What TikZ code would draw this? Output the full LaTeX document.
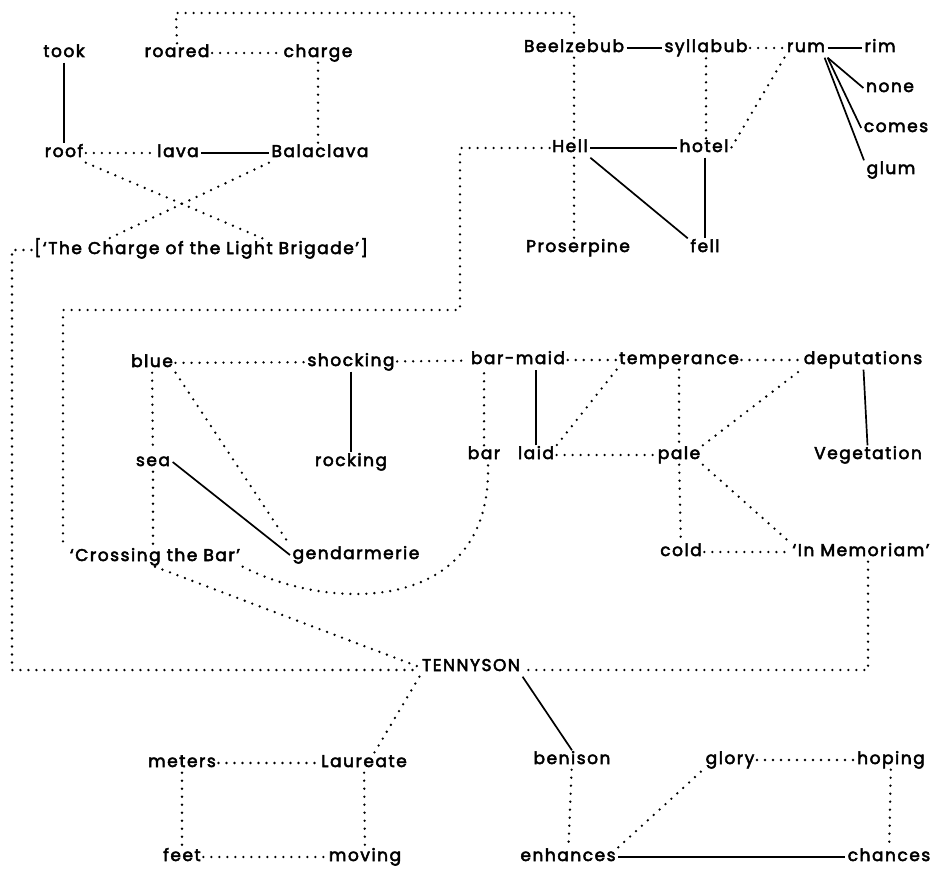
\documentclass[tikz,border=0pt]{standalone}
\usepackage{fontspec}
\setmainfont{Poppins}[LetterSpace=9,FakeBold=3]
\begin{document}
\begin{tikzpicture}[x=1pt,y=-1pt,
  w/.style={inner sep=2.5pt, text height=11pt, text depth=3pt, font=\fontsize{17}{20}\selectfont},
  dotl/.style={line width=2.6pt, line cap=round, dash pattern=on 0pt off 8pt},
  sol/.style={line width=1.7pt}]
\useasboundingbox[fill=white] (0,0) rectangle (936,869);
% top-left cluster
\node[w] (took) at (64,53) {took};
\node[w] (roared) at (177,53) {roared};
\node[w] (charge) at (318,53) {charge};
\node[w] (roof) at (64,153) {roof};
\node[w] (lava) at (178,153) {lava};
\node[w] (balaclava) at (320,153) {Balaclava};
\node[w] (brigade) at (201,250) {[‘The Charge of the Light Brigade’]};
% top-right cluster
\node[w] (beelzebub) at (574,48) {Beelzebub};
\node[w] (syllabub) at (706,48) {syllabub};
\node[w] (rum) at (806,48) {rum};
\node[w] (rim) at (880,48) {rim};
\node[w] (none) at (890,88) {none};
\node[w] (comes) at (896,128) {comes};
\node[w] (glum) at (891,170) {glum};
\node[w] (hell) at (570,148) {Hell};
\node[w] (hotel) at (704,148) {hotel};
\node[w] (proserpine) at (578,248) {Proserpine};
\node[w] (fell) at (705,248) {fell};
% middle
\node[w] (blue) at (152,363) {blue};
\node[w] (shocking) at (351,362) {shocking};
\node[w] (sea) at (153,462) {sea};
\node[w] (rocking) at (351,462) {rocking};
\node[w] (crossing) at (155,557) {‘Crossing the Bar’};
\node[w] (gendarmerie) at (356,555) {gendarmerie};
\node[w] (barmaid) at (518,360) {bar-maid};
\node[w] (temperance) at (679,360) {temperance};
\node[w] (deputations) at (863,360) {deputations};
\node[w] (bar) at (484,455) {bar};
\node[w] (laid) at (536,455) {laid};
\node[w] (pale) at (679,455) {pale};
\node[w] (vegetation) at (868,455) {Vegetation};
\node[w] (cold) at (681,552) {cold};
\node[w] (memoriam) at (861,552) {‘In Memoriam’};
% bottom
\node[w] (tennyson) at (471,667) {TENNYSON};
\node[w] (meters) at (182,763) {meters};
\node[w] (laureate) at (364,763) {Laureate};
\node[w] (feet) at (182,857) {feet};
\node[w] (moving) at (365,857) {moving};
\node[w] (benison) at (572,760) {benison};
\node[w] (enhances) at (568,857) {enhances};
\node[w] (glory) at (730,760) {glory};
\node[w] (hoping) at (891,760) {hoping};
\node[w] (chances) at (889,857) {chances};

\coordinate (t1) at (176,13);
\coordinate (t2) at (574,13);
\coordinate (h1) at (460,148);
\coordinate (h2) at (460,310);
\coordinate (h3) at (63,310);
\coordinate (b1) at (12,250);
\coordinate (b2) at (12,670);
\coordinate (m1) at (868,670);

% top-left
\draw[sol] (took) -- (roof);
\draw[dotl] (roared) -- (charge);
\draw[dotl] (charge) -- (charge |- balaclava.north);
\draw[dotl] (roof) -- (lava);
\draw[sol] (lava) -- (balaclava);
\draw[dotl] (roof.south east) -- ([xshift=66pt]brigade.north);
\draw[dotl] (balaclava.south west) -- ([xshift=-96pt]brigade.north);
\draw[dotl] (roared.north) -- (t1) -- (t2) -- (t2 |- beelzebub.north);
\draw[dotl] (brigade.west) -- (b1) -- (b2) -- (tennyson.west |- b2);
% top-right
\draw[sol] (beelzebub) -- (syllabub);
\draw[dotl] (syllabub) -- (rum);
\draw[sol] (rum) -- (rim);
\draw[sol] (rum.south east) -- (none.west);
\draw[sol] (rum.south east) -- (comes.west);
\draw[sol] ([xshift=-3pt]rum.south east) -- (glum.north west);
\draw[dotl] (t2 |- beelzebub.south) -- (t2 |- hell.north);
\draw[dotl] (t2 |- hell.south) -- (t2 |- proserpine.north);
\draw[dotl] (hotel.north -| syllabub.south) -- (syllabub.south);
\draw[dotl] (rum.south west) -- (hotel.east);
\draw[sol] (hell) -- (hotel);
\draw[sol] (hell.south east) -- (fell.north west);
\draw[sol] (hotel.south -| fell.north) -- (fell.north);
\draw[dotl] (hell.west) -- (h1) -- (h2) -- (h3) -- (h3 |- crossing.north);
% middle
\draw[dotl] (blue) -- (shocking);
\draw[dotl] (shocking) -- (barmaid);
\draw[dotl] (barmaid) -- (temperance);
\draw[dotl] (temperance) -- (deputations);
\draw[sol] (shocking) -- (rocking);
\draw[dotl] (bar.north) -- (bar.north |- barmaid.south);
\draw[sol] (laid.north) -- (laid.north |- barmaid.south);
\draw[dotl] (blue) -- (sea);
\draw[dotl] (sea.south) -- (sea.south |- crossing.north);
\draw[dotl] (blue.south east) -- (gendarmerie.north west);
\draw[sol] (sea.east) -- (gendarmerie.west);
\draw[dotl] (temperance.south west) -- (laid.north east);
\draw[dotl] (temperance) -- (pale);
\draw[dotl] (pale) -- (cold);
\draw[dotl] (laid) -- (pale);
\draw[dotl] (pale.north east) -- (deputations.south west);
\draw[dotl] (pale.south east) -- (memoriam.north west);
\draw[dotl] (cold) -- (memoriam);
\draw[sol] (deputations) -- (vegetation);
\draw[dotl] (crossing.south east) .. controls (330,612) and (492,615) .. ([xshift=4pt]bar.south);
\draw[dotl] (crossing.south) -- (tennyson.west);
\draw[dotl] (memoriam.south -| m1) -- (m1) -- (tennyson.east |- m1);
% bottom
\draw[sol] (tennyson.south east) -- (benison.north);
\draw[dotl] (tennyson.south west) -- ([xshift=10pt]laureate.north);
\draw[dotl] (meters) -- (laureate);
\draw[dotl] (meters) -- (feet);
\draw[dotl] (laureate) -- (moving);
\draw[dotl] (feet) -- (moving);
\draw[dotl] (benison) -- (enhances);
\draw[dotl] (enhances.north east) -- (glory.south west);
\draw[dotl] (glory) -- (hoping);
\draw[dotl] (hoping) -- (chances);
\draw[sol] (enhances) -- (chances);
\end{tikzpicture}
\end{document}
